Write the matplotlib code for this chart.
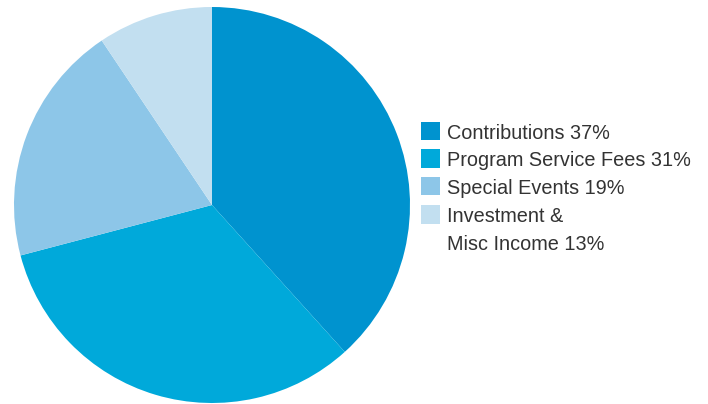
import matplotlib
matplotlib.use("Agg")
import matplotlib.pyplot as plt
from matplotlib.patches import Rectangle

# slice sizes as drawn (percent of circle), legend texts as printed
categories = ["Contributions 37%", "Program Service Fees 31%",
              "Special Events 19%", "Investment &\nMisc Income 13%"]
shares = [38.3, 32.6, 19.7, 9.4]
colors = ["#0093cf", "#00a9da", "#8dc6e8", "#c2dff0"]

W, H = 708, 404
fig = plt.figure(figsize=(W / 100, H / 100), dpi=100)
fig.patch.set_facecolor("white")

# pie: centre (212, 205) px, radius 198 px
cx, cy, r = 212, 205, 198
ax = fig.add_axes([(cx - r) / W, (H - cy - r) / H, 2 * r / W, 2 * r / H])
ax.pie(shares, colors=colors, startangle=90, counterclock=False,
       radius=1, wedgeprops=dict(linewidth=0))
ax.set_xlim(-1, 1)
ax.set_ylim(-1, 1)
ax.set_aspect("equal")
ax.axis("off")

# legend drawn by hand
sq = 18.5
x0 = 421
tops = [121.7, 149.3, 176.7, 205.3]
for lab, col, top in zip(categories, colors, tops):
    fig.patches.append(Rectangle((x0 / W, (H - top - sq) / H), sq / W, sq / H,
                                 transform=fig.transFigure, facecolor=col,
                                 edgecolor="none"))
    # one baseline per text line
    for i, line in enumerate(lab.split("\n")):
        base = top + 17 + i * 27.3
        fig.text(447 / W, (H - base) / H, line, ha="left", va="baseline",
                 fontsize=14.3, family="Liberation Sans", color="#333333")

fig.savefig("out.png", dpi=100)
